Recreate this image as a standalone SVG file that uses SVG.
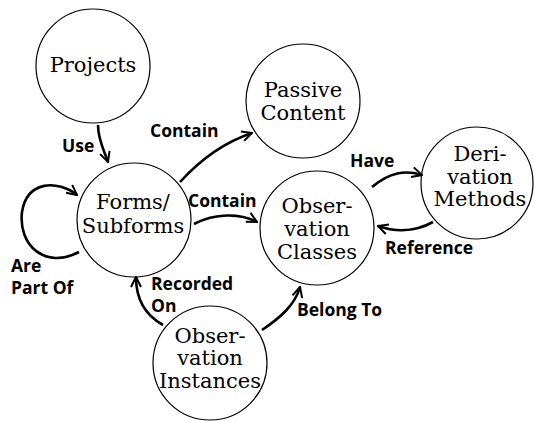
<svg xmlns="http://www.w3.org/2000/svg" width="534" height="421" viewBox="0 0 534 421">
<style>
.node circle{fill:#fff;stroke:#000;stroke-width:1.2}
.node text{font-family:"DejaVu Serif","Liberation Serif",serif;font-size:21px;text-anchor:middle;fill:#000}
.edge path{fill:none;stroke:#000;stroke-width:2.6}
.lbl{font-family:"Open Sans","DejaVu Sans",sans-serif;font-weight:bold;font-size:17.5px;fill:#000}
</style>
<defs>
<marker id="ah" viewBox="0 0 12 12" refX="11" refY="6" markerWidth="12" markerHeight="12" markerUnits="userSpaceOnUse" orient="auto">
<path d="M1,1 L11,6 L1,11" fill="none" stroke="#000" stroke-width="2"/>
</marker>
</defs>
<rect width="534" height="421" fill="#fff"/>
<g id="projects" class="node"><circle cx="93" cy="66" r="57"/><text x="93" y="72">Projects</text></g>
<g id="forms" class="node"><circle cx="134" cy="220" r="57"/><text x="133" y="209">Forms/</text><text x="133" y="233">Subforms</text></g>
<g id="passive" class="node"><circle cx="303" cy="101" r="57"/><text x="303" y="97">Passive</text><text x="303" y="120">Content</text></g>
<g id="obsclasses" class="node"><circle cx="317" cy="228" r="57"/><text x="317" y="213">Obser-</text><text x="317" y="236">vation</text><text x="317" y="259">Classes</text></g>
<g id="derivation" class="node"><circle cx="477" cy="183" r="56"/><text x="480" y="161">Deri-</text><text x="480" y="184">vation</text><text x="480" y="206">Methods</text></g>
<g id="obsinstances" class="node"><circle cx="210" cy="363" r="57"/><text x="210" y="343">Obser-</text><text x="210" y="365">vation</text><text x="210" y="388">Instances</text></g>
<g id="connectors" class="edge">
<path d="M98,125 C98,140 104,150 108,162" marker-end="url(#ah)"/>
<path d="M180,182 C200,160 225,142 252,133" marker-end="url(#ah)"/>
<path d="M194,224 C215,213 240,213 257,222" marker-end="url(#ah)"/>
<path d="M372,187 C390,172 405,170 422,175" marker-end="url(#ah)"/>
<path d="M433,222 C415,232 395,232 378,226" marker-end="url(#ah)"/>
<path d="M163,325 C145,315 136,298 136,277" marker-end="url(#ah)"/>
<path d="M262,330 C280,318 295,305 300,287" marker-end="url(#ah)"/>
<path d="M79,252 C45,270 18,245 22,212 C27,180 58,180 77,195" marker-end="url(#ah)"/>
</g>
<g id="labels">
<text class="lbl" x="62" y="152">Use</text>
<text class="lbl" x="150" y="137">Contain</text>
<text class="lbl" x="188" y="207">Contain</text>
<text class="lbl" x="350" y="167">Have</text>
<text class="lbl" x="385" y="254">Reference</text>
<text class="lbl" x="11" y="272">Are</text>
<text class="lbl" x="11" y="294">Part Of</text>
<text class="lbl" x="151" y="290">Recorded</text>
<text class="lbl" x="151" y="312">On</text>
<text class="lbl" x="297" y="316">Belong To</text>
</g>
</svg>
